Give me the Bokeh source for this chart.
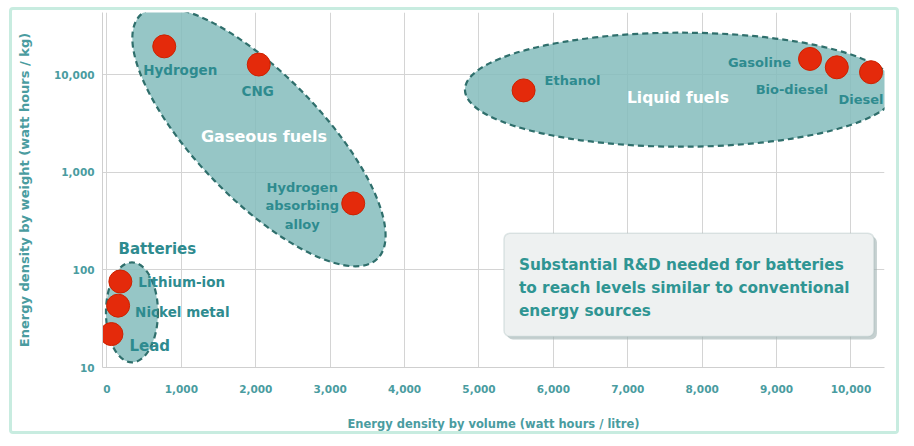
from bokeh.plotting import figure
from bokeh.models import FixedTicker, NumeralTickFormatter, BoxAnnotation, ColumnDataSource
from bokeh.core.properties import value
from bokeh.embed import file_html
from bokeh.resources import INLINE

# ---- data ----
fuels = ["Hydrogen", "CNG", "Hydrogen absorbing alloy", "Ethanol", "Gasoline", "Bio-diesel", "Diesel",
         "Lithium-ion", "Nickel metal", "Lead"]
wh_per_litre = [770, 2040, 3310, 5600, 9450, 9810, 10270, 180, 150, 60]
wh_per_kg = [19500, 12700, 480, 6900, 14500, 11900, 10600, 76, 43, 22]

x_ticks = [0, 1000, 2000, 3000, 4000, 5000, 6000, 7000, 8000, 9000, 10000]
y_ticks = [10, 100, 1000, 10000]

groups = ["Gaseous fuels", "Liquid fuels", "Batteries"]
group_cx = [2043, 7715, 336]
group_cy = [2307, 7015, 36.7]

note = ["Substantial R&D needed for batteries",
        "to reach levels similar to conventional",
        "energy sources"]

# ---- style ----
TEAL = "#2e8b8f"
TICK = "#4a9ca0"
FONT = "DejaVu Sans"

p = figure(width=890, height=427, x_axis_type="linear", y_axis_type="log",
           x_range=(-60, 10451), y_range=(10, 43350),
           output_backend="svg", toolbar_location=None,
           min_border_left=90, min_border_right=18, min_border_top=2, min_border_bottom=70,
           styles={"border": "3px solid #c8ece0", "border-radius": "4px",
                   "margin-left": "9px", "margin-top": "7px"})
p.outline_line_color = None
p.background_fill_color = "white"

p.xaxis.ticker = FixedTicker(ticks=x_ticks)
p.yaxis.ticker = FixedTicker(ticks=y_ticks)
p.xaxis.formatter = NumeralTickFormatter(format="0,0")
p.yaxis.formatter = NumeralTickFormatter(format="0,0")
for ax in (p.xaxis, p.yaxis):
    ax.major_tick_line_color = None
    ax.minor_tick_line_color = None
    ax.axis_line_color = "#cfcfcf"
    ax.major_label_text_color = TICK
    ax.major_label_text_font = FONT
    ax.major_label_text_font_style = "bold"
    ax.major_label_text_font_size = "10.5px"
    ax.axis_label_text_color = TICK
    ax.axis_label_text_font = FONT
    ax.axis_label_text_font_style = "bold"
p.xaxis.axis_label_text_font_size = "11.5px"
p.yaxis.axis_label_text_font_size = "13px"
p.xaxis.axis_label = "Energy density by volume (watt hours / litre)"
p.yaxis.axis_label = "Energy density by weight (watt hours / kg)"
p.xaxis.major_label_standoff = 11
p.xaxis.axis_label_standoff = 21
p.yaxis.major_label_standoff = 2
p.yaxis.axis_label_standoff = 19

p.xgrid.grid_line_color = "#d4d4d4"
p.ygrid.grid_line_color = "#d4d4d4"

# ---- callout box (under the glyphs) ----
box_l, box_r, box_t, box_b = 5336, 10309, 238, 20.8
p.add_layout(BoxAnnotation(left=box_l + 40, right=box_r + 40, top=box_t * 0.93, bottom=box_b * 0.93,
                           fill_color="#9fb0b0", fill_alpha=0.6, line_color=None, border_radius=6,
                           level="underlay"))
p.add_layout(BoxAnnotation(left=box_l, right=box_r, top=box_t, bottom=box_b,
                           fill_color="#eef1f1", fill_alpha=1.0, line_color="#9db3b3", line_width=1.5,
                           border_radius=6, level="underlay"))
for k, line in enumerate(note):
    p.text(x=[box_l], y=[box_t], text=[line], x_offset=15, y_offset=32 + 23 * k,
           text_align="left", text_baseline="middle", text_color="#2f9593",
           text_font=value(FONT), text_font_style="bold", text_font_size="15.3px")

# ---- group ellipses ----
ell_w = [340, 432, 52]
ell_h = [125, 114, 100]
ell_a = [-0.80, 0.0, 0.0]
p.ellipse(x=group_cx, y=group_cy, width=ell_w, height=ell_h, angle=ell_a,
          width_units="screen", height_units="screen",
          fill_color="#84bcbc", fill_alpha=0.85,
          line_color="#2f6f6c", line_width=2.2, line_dash="6 4")

# group titles
p.text(x=[group_cx[0]], y=[group_cy[0]], text=[groups[0]], x_offset=5, y_offset=0,
       text_align="center", text_baseline="middle", text_color="white",
       text_font=value(FONT), text_font_style="bold", text_font_size="16px")
p.text(x=[group_cx[1]], y=[group_cy[1]], text=[groups[1]], x_offset=-3, y_offset=8,
       text_align="center", text_baseline="middle", text_color="white",
       text_font=value(FONT), text_font_style="bold", text_font_size="15.5px")
p.text(x=[wh_per_litre[7]], y=[wh_per_kg[7]], text=[groups[2]], x_offset=37, y_offset=-33,
       text_align="center", text_baseline="middle", text_color=TEAL,
       text_font=value(FONT), text_font_style="bold", text_font_size="15px")

# ---- points ----
src = ColumnDataSource(dict(x=wh_per_litre, y=wh_per_kg, name=fuels))
p.scatter("x", "y", source=src, size=23, fill_color="#e42a0b", line_color="#cc2200", line_width=1)

# ---- point labels ----
# (index, text, dx, dy, align, size)
label_style = [
    (0, "Hydrogen", 16, 24, "center", "13.5px"),
    (1, "CNG", -1, 26, "center", "13.5px"),
    (2, "Hydrogen", -51, -16, "center", "13px"),
    (2, "absorbing", -51, 2, "center", "13px"),
    (2, "alloy", -51, 21, "center", "13px"),
    (3, "Ethanol", 21, -10, "left", "13px"),
    (4, "Gasoline", -19, 4, "right", "13px"),
    (5, "Bio-diesel", -45, 22, "center", "13px"),
    (6, "Diesel", -10, 27, "center", "13px"),
    (7, "Lithium-ion", 18, 0, "left", "13.5px"),
    (8, "Nickel metal", 17, 6, "left", "13.5px"),
    (9, "Lead", 18, 12, "left", "15px"),
]
for i, t, dx, dy, al, fs in label_style:
    p.text(x=[wh_per_litre[i]], y=[wh_per_kg[i]], text=[t], x_offset=dx, y_offset=dy,
           text_align=al, text_baseline="middle", text_color=TEAL,
           text_font=value(FONT), text_font_style="bold", text_font_size=fs)

open("out.html", "w").write(file_html(p, INLINE))
